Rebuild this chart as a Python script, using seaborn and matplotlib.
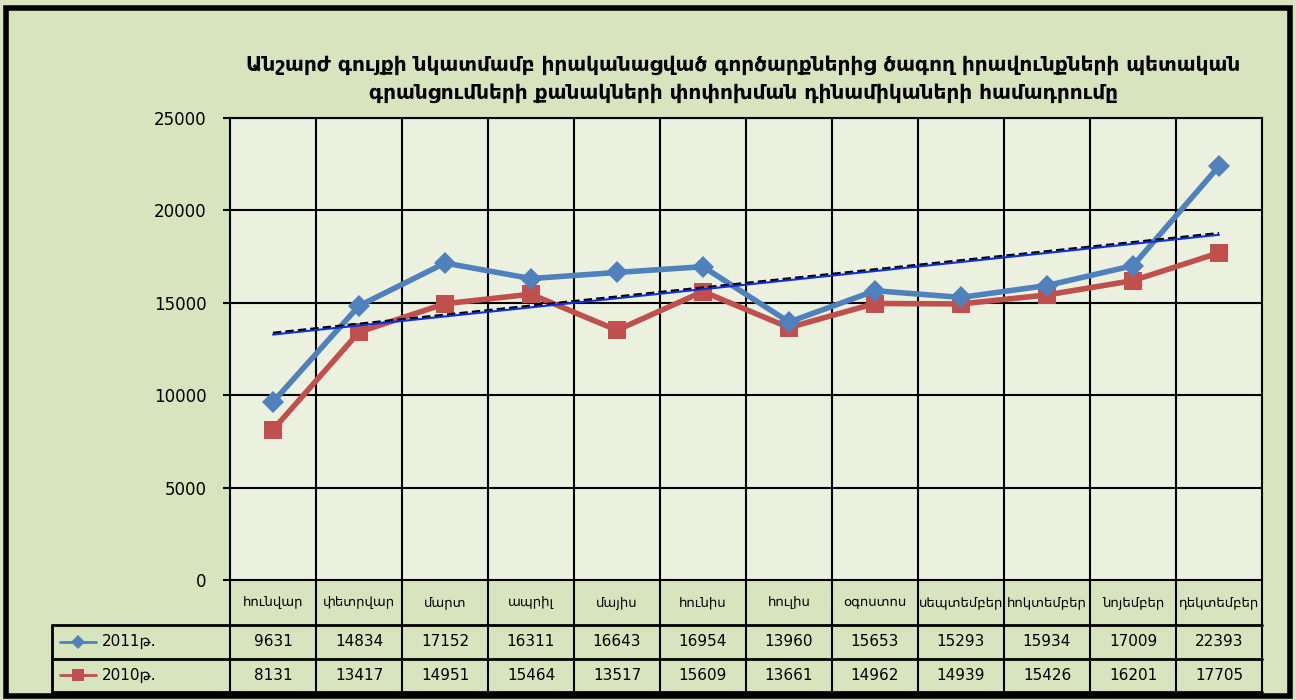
import numpy as np
import pandas as pd
import matplotlib.pyplot as plt
import seaborn as sns

# data
months = ["հունվար", "փետրվար", "մարտ", "ապրիլ", "մայիս", "հունիս",
          "հուլիս", "օգոստոս", "սեպտեմբեր", "հոկտեմբեր", "նոյեմբեր", "դեկտեմբեր"]
y2011 = [9631, 14834, 17152, 16311, 16643, 16954, 13960, 15653, 15293, 15934, 17009, 22393]
y2010 = [8131, 13417, 14951, 15464, 13517, 15609, 13661, 14962, 14939, 15426, 16201, 17705]
labels = ["2011թ.", "2010թ."]
title = ("Անշարժ գույքի նկատմամբ իրականացված գործարքներից ծագող իրավունքների պետական\n"
         "գրանցումների քանակների փոփոխման դինամիկաների համադրումը")

outer_bg = "#D7E4BD"
plot_bg = "#EBF1DE"
blue = "#4F81BD"
red = "#C0504D"

sns.set_theme(style="white")
plt.rcParams['font.family'] = ['DejaVu Sans']
plt.rcParams['text.color'] = 'black'

fig = plt.figure(figsize=(12.96, 7), dpi=100, facecolor=outer_bg)
ax = fig.add_axes([230/1296, 1-580/700, 1032/1296, 462/700])
ax.set_facecolor(plot_bg)

x = np.arange(len(months))
df = pd.DataFrame({"x": x, "2011": y2011, "2010": y2010})

sns.lineplot(data=df, x="x", y="2011", ax=ax, color=blue, lw=4, marker="D",
             markersize=11, markeredgewidth=0, zorder=4)
sns.lineplot(data=df, x="x", y="2010", ax=ax, color=red, lw=4, marker="s",
             markersize=13, markeredgewidth=0, zorder=3)

# linear trend of 2011
k, b = np.polyfit(x, y2011, 1)
trend = k * x + b
ax.plot(x, trend + 80, color="black", lw=2, ls=(0, (3, 1.5)), zorder=5)
ax.plot(x, trend, color="#1030E0", lw=1.5, zorder=5)

ax.set_xlim(-0.5, len(months) - 0.5)
ax.set_ylim(0, 25000)
ax.set_yticks(range(0, 25001, 5000))
ax.set_xticks([])
ax.set_xlabel("")
ax.set_ylabel("")
ax.tick_params(axis="y", labelsize=12, labelcolor="black", color="black",
               length=5, width=1.5, left=True, pad=12)
for yv in range(5000, 25001, 5000):
    ax.axhline(yv, color="black", lw=1.5, zorder=1)
for xv in np.arange(0.5, len(months) - 0.5, 1):
    ax.axvline(xv, color="black", lw=1.5, zorder=1)
for s in ax.spines.values():
    s.set_color("black")
    s.set_linewidth(1.5)

fig.text(743/1296, 1-79/700, title, ha="center", va="center", fontsize=14.5,
         fontweight="bold", linespacing=1.55, color="black")

# data table below the axes
tr = ax.get_xaxis_transform()
h_head = (625 - 580) / 462
h_row = (692 - 625) / 462 / 2
y_top = 0
y_r1 = -h_head
y_r2 = y_r1 - h_row
y_bot = y_r2 - h_row
lab_left = (52 - 230) / 1032 * 12 - 0.5

for i, m in enumerate(months):
    ax.text(i, y_top - h_head / 2, m, transform=tr, ha="center", va="center",
            fontsize=9.5, clip_on=False)
    ax.text(i, y_r1 - h_row / 2, str(y2011[i]), transform=tr, ha="center",
            va="center", fontsize=11, clip_on=False)
    ax.text(i, y_r2 - h_row / 2, str(y2010[i]), transform=tr, ha="center",
            va="center", fontsize=11, clip_on=False)

# table grid
for xv in np.arange(-0.5, len(months), 1):
    ax.plot([xv, xv], [y_top, y_bot], transform=tr, color="black", lw=1.5, clip_on=False)
ax.plot([lab_left, lab_left], [y_r1, y_bot], transform=tr, color="black", lw=2, clip_on=False)
for yv in (y_r1, y_r2, y_bot):
    ax.plot([lab_left, len(months) - 0.5], [yv, yv], transform=tr, color="black",
            lw=2, clip_on=False)

# legend keys in row labels
key_x0 = lab_left + (60 - 52) / 1032 * 12
key_x1 = key_x0 + (96 - 60) / 1032 * 12
key_mid = (key_x0 + key_x1) / 2
text_x = (102 - 230) / 1032 * 12 - 0.5
for yc, col, mk, ms, lab in ((y_r1 - h_row / 2, blue, "D", 7, labels[0]),
                             (y_r2 - h_row / 2, red, "s", 8, labels[1])):
    ax.plot([key_x0, key_x1], [yc, yc], transform=tr, color=col, lw=2, clip_on=False)
    ax.plot([key_mid], [yc], transform=tr, color=col, marker=mk, markersize=ms,
            markeredgewidth=0, clip_on=False)
    ax.text(text_x, yc, lab, transform=tr, ha="left", va="center", fontsize=11,
            clip_on=False)

# outer frame
fig.patches.append(plt.Rectangle((6/1296, 4/700), 1284/1296, 688/700,
                                 transform=fig.transFigure, fill=False,
                                 edgecolor="black", lw=4))

fig.savefig("out.png", dpi=100, facecolor=outer_bg)
